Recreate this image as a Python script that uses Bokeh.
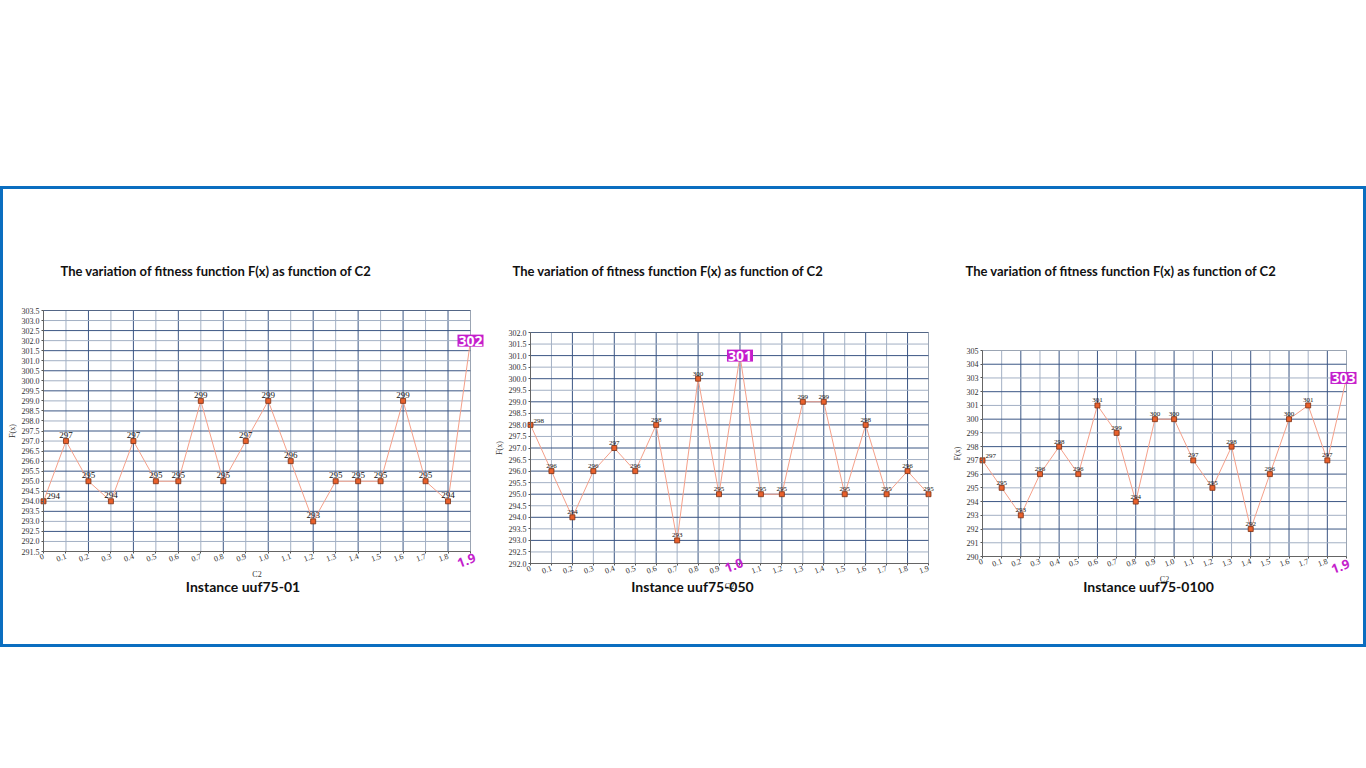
import numpy as np
from bokeh.plotting import figure
from bokeh.models import (ColumnDataSource, LabelSet, Label, FixedTicker, BoxAnnotation,
                          CustomJSTickFormatter, NumeralTickFormatter, Spacer, Range1d)
from bokeh.layouts import row, column
from bokeh.embed import file_html
from bokeh.resources import INLINE

# ---------------- data ----------------
c2 = [0.0, 0.1, 0.2, 0.3, 0.4, 0.5, 0.6, 0.7, 0.8, 0.9,
      1.0, 1.1, 1.2, 1.3, 1.4, 1.5, 1.6, 1.7, 1.8, 1.9]
c2_labels = ["0", "0.1", "0.2", "0.3", "0.4", "0.5", "0.6", "0.7", "0.8", "0.9",
             "1.0", "1.1", "1.2", "1.3", "1.4", "1.5", "1.6", "1.7", "1.8", "1.9"]

f_uuf75_01 = [294, 297, 295, 294, 297, 295, 295, 299, 295, 297,
              299, 296, 293, 295, 295, 295, 299, 295, 294, 302]
f_uuf75_050 = [298, 296, 294, 296, 297, 296, 298, 293, 300, 295,
               301, 295, 295, 299, 299, 295, 298, 295, 296, 295]
f_uuf75_0100 = [297, 295, 293, 296, 298, 296, 301, 299, 294, 300,
                300, 297, 295, 298, 292, 296, 300, 301, 297, 303]

chart_title = "The variation of fitness function F(x) as function of C2"
captions = ["Instance uuf75-01", "Instance uuf75-050", "Instance uuf75-0100"]
best_index = [19, 10, 19]
y_min = [291.5, 292.0, 290.0]
y_max = [303.5, 302.0, 305.0]
y_step = [0.5, 0.5, 1.0]
y_format = ["0.0", "0.0", "0"]

# ---------------- layout (page pixels) ----------------
FIG_TOP, FIG_H = 189, 455
# fig left, fig width, plot-box left, right, top, bottom
boxes = [(3, 487, 43, 470, 310, 551),
         (490, 455, 530, 928, 332, 563),
         (945, 418, 982, 1346, 350, 556)]
title_off = [(17, 40), (-18, 62), (-17, 80)]
caption_off = [(-14, -35), (-37, -23), (-16, -30)]
best_tick_off = [(-4, -9), (-6, -2), (-6, -10)]
best_box_off = [(0, 0), (0, 0), (-3, 0)]
value_label_size = ["9px", "7px", "7px"]

# ---------------- style ----------------
MAGENTA = "#C41ECC"
DARK_GRID = "#3B5684"
LIGHT_GRID = "#A3B0C4"
SERIF = "Liberation Serif"


def make_chart(k, values):
    best = best_index[k]
    ymin, ymax, ystep = y_min[k], y_max[k], y_step[k]
    X0, W, L, R, T, B = boxes[k]
    l, r, t, b = L - X0, R - X0, T - FIG_TOP, B - FIG_TOP
    sx = (c2[-1] - c2[0]) / (r - l)
    sy = (ymax - ymin) / (b - t)
    xr = Range1d(c2[0] - l * sx, c2[-1] + (W - r) * sx)
    yr = Range1d(ymin - (FIG_H - b) * sy, ymax + t * sy)

    p = figure(width=W, height=FIG_H, x_range=xr, y_range=yr,
               output_backend="svg", toolbar_location=None,
               min_border=0, min_border_left=0, min_border_right=0,
               min_border_top=0, min_border_bottom=0)
    p.background_fill_color = "white"
    p.border_fill_color = "white"
    p.outline_line_color = None
    p.grid.visible = False

    yt = list(np.round(np.arange(ymin, ymax + ystep / 2, ystep), 2))
    x_light, x_dark = c2[1::2], c2[0::2]
    y_light, y_dark = yt[1::2], yt[0::2]

    # grid lines restricted to the plot box
    p.segment(x0=x_light, x1=x_light, y0=ymin, y1=ymax, line_color=LIGHT_GRID, line_width=1)
    p.segment(x0=x_dark, x1=x_dark, y0=ymin, y1=ymax, line_color=DARK_GRID, line_width=1)
    p.segment(x0=c2[0], x1=c2[-1], y0=y_light, y1=y_light, line_color=LIGHT_GRID, line_width=1)
    p.segment(x0=c2[0], x1=c2[-1], y0=y_dark, y1=y_dark, line_color=DARK_GRID, line_width=1)
    p.add_layout(BoxAnnotation(left=c2[0], right=c2[-1], bottom=ymin, top=ymax,
                               fill_alpha=0, line_color="#8A8A8A", line_width=1))

    # axes fixed on the plot box edges
    shown = list(c2_labels)
    shown[best] = ""
    xa = p.xaxis[0]
    xa.fixed_location = ymin
    xa.bounds = (c2[0], c2[-1])
    xa.ticker = FixedTicker(ticks=c2)
    xa.formatter = CustomJSTickFormatter(
        args=dict(tvals=c2, tlabels=shown),
        code="const i = tvals.findIndex(t => Math.abs(t - tick) < 1e-6); return i >= 0 ? tlabels[i] : '';")
    xa.major_label_orientation = 0.35
    xa.axis_label = "C2"
    ya = p.yaxis[0]
    ya.fixed_location = c2[0]
    ya.bounds = (ymin, ymax)
    ya.ticker = FixedTicker(ticks=yt)
    ya.formatter = NumeralTickFormatter(format=y_format[k])
    ya.axis_label = "F(x)"
    for ax in (xa, ya):
        ax.major_label_text_font = SERIF
        ax.major_label_text_font_size = "8px"
        ax.major_label_text_color = "#333333"
        ax.axis_label_text_font = SERIF
        ax.axis_label_text_font_size = "8px"
        ax.axis_label_text_font_style = "normal"
        ax.axis_label_text_color = "#333333"
        ax.axis_line_color = "#555555"
        ax.major_tick_line_color = "#555555"
        ax.major_tick_in = 0
        ax.major_tick_out = 2
        ax.minor_tick_line_color = None
        ax.major_label_standoff = 2
        ax.axis_label_standoff = 2

    # data
    src = ColumnDataSource(dict(x=c2, y=values))
    p.line("x", "y", source=src, line_color="#F5A08A", line_width=1)
    p.scatter("x", "y", source=src, marker="square", size=5,
              fill_color="#E8602C", line_color="#7A2E12", line_width=0.8)

    # value labels
    idx = [i for i in range(1, len(c2)) if i != best]
    lsrc = ColumnDataSource(dict(x=[c2[i] for i in idx], y=[values[i] for i in idx],
                                 t=[str(values[i]) for i in idx]))
    p.add_layout(LabelSet(x="x", y="y", text="t", source=lsrc, text_align="center",
                          text_baseline="bottom", y_offset=3, text_font=SERIF,
                          text_font_size=value_label_size[k], text_color="#111111"))
    p.add_layout(Label(x=c2[0], y=values[0], text=str(values[0]), text_align="left",
                       text_baseline="bottom", x_offset=3, y_offset=2, text_font=SERIF,
                       text_font_size=value_label_size[k], text_color="#111111"))

    # highlighted best value and its C2 tick
    p.add_layout(Label(x=c2[best], y=values[best], text=str(values[best]),
                       x_offset=best_box_off[k][0], y_offset=best_box_off[k][1],
                       text_align="center", text_baseline="middle",
                       text_font="Open Sans", text_font_size="14px", text_font_style="bold",
                       text_color="white", background_fill_color=MAGENTA, padding=1))
    p.add_layout(Label(x=c2[best], y=ymin, text=c2_labels[best],
                       x_offset=best_tick_off[k][0], y_offset=best_tick_off[k][1],
                       text_align="center", text_baseline="middle", angle=0.35,
                       text_font="Open Sans", text_font_size="13px", text_font_style="bold",
                       text_color=MAGENTA))

    # title and caption
    p.add_layout(Label(x=c2[0], y=ymax, text=chart_title,
                       x_offset=title_off[k][0], y_offset=title_off[k][1],
                       text_align="left", text_baseline="middle",
                       text_font="Lato", text_font_size="13px", text_font_style="bold",
                       text_color="#111111"))
    p.add_layout(Label(x=(c2[0] + c2[-1]) / 2, y=ymin, text=captions[k],
                       x_offset=caption_off[k][0], y_offset=caption_off[k][1],
                       text_align="center", text_baseline="middle",
                       text_font="Lato", text_font_size="14px", text_font_style="bold",
                       text_color="#111111"))
    return p


series = [f_uuf75_01, f_uuf75_050, f_uuf75_0100]
charts = [make_chart(k, series[k]) for k in range(3)]

framed = row(*charts, styles={"border": "3px solid #0A6EC0", "background-color": "white"})
layout = column(Spacer(width=1366, height=186), framed)

open("out.html", "w").write(file_html(layout, INLINE))
